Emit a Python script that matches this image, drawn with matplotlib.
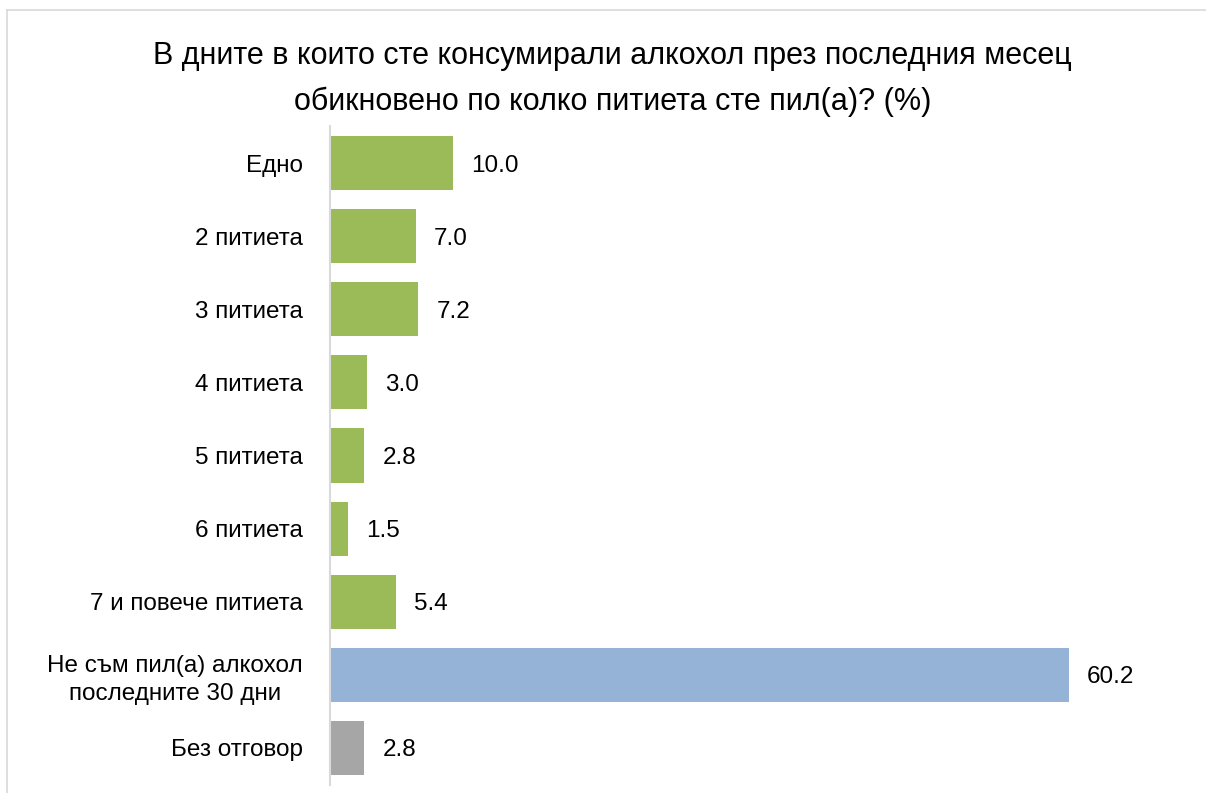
import matplotlib.pyplot as plt
from matplotlib import font_manager
from matplotlib.lines import Line2D

# ------ DATA ------
categories = ['Едно', '2 питиета', '3 питиета', '4 питиета', '5 питиета',
              '6 питиета', '7 и повече питиета',
              'Не съм пил(а) алкохол\nпоследните 30 дни', 'Без отговор']
values = [10.0, 7.0, 7.2, 3.0, 2.8, 1.5, 5.4, 60.2, 2.8]
bar_colors = ['#9BBB59'] * 7 + ['#95B3D7', '#A6A6A6']
title = ('В дните в които сте консумирали алкохол през последния месец\n'
         'обикновено по колко питиета сте пил(а)? (%)')

# pick a narrow Arial-like face if available
names = {f.name for f in font_manager.fontManager.ttflist}
fam = 'Liberation Sans Narrow' if 'Liberation Sans Narrow' in names else 'Liberation Sans'
plt.rcParams['font.family'] = [fam, 'DejaVu Sans']

fig = plt.figure(figsize=(12.06, 7.93), dpi=100)
ax = fig.add_axes([0.2736, 0.0107, 0.692, 0.8298])

y = list(range(len(categories)))
ax.barh(y, values, height=0.74, color=bar_colors)
ax.set_ylim(len(categories) - 0.5, -0.5)
ax.set_xlim(0, 68)

for yi, v in zip(y, values):
    ax.annotate(f'{v:.1f}', (v, yi), xytext=(13, 0), textcoords='offset points',
                ha='left', va='center_baseline', fontsize=17.5)

ax.set_yticks(y)
ax.set_yticklabels(categories, fontsize=17.5, multialignment='center')
for lbl in ax.get_yticklabels():
    lbl.set_linespacing(1.35)
ax.tick_params(axis='y', length=0, pad=19.5)
ax.set_xticks([])
for s in ['top', 'right', 'bottom']:
    ax.spines[s].set_visible(False)
ax.spines['left'].set_color('#D9D9D9')
ax.spines['left'].set_linewidth(1.5)

fig.text(0.508, 0.948, title, ha='center', va='top', fontsize=22,
         linespacing=1.65)

# chart frame (top and left edges visible)
fig.add_artist(Line2D([7 / 1206, 1.0], [1 - 10 / 793] * 2,
                      transform=fig.transFigure, color='#D9D9D9', lw=1.2))
fig.add_artist(Line2D([7 / 1206] * 2, [0, 1 - 10 / 793],
                      transform=fig.transFigure, color='#D9D9D9', lw=1.2))

fig.savefig('out.png', dpi=100)
